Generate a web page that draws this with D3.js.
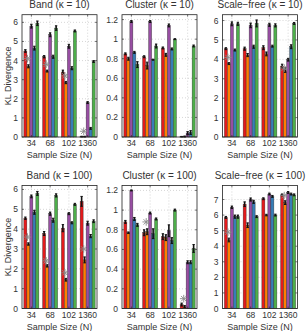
<!DOCTYPE html>
<html><head><meta charset="utf-8">
<script src="https://cdn.jsdelivr.net/npm/d3@7"></script>
<style>body{margin:0;background:#fff}svg{display:block}text{font-family:"Liberation Sans",Arial,sans-serif;fill:#333}</style>
</head><body><svg id="c" width="306" height="331"></svg>
<script>
const sampleSizes = ["34","68","102","1360"];
const methodColors = ["#e41a1c","#ff7f00","#984ea3","#377eb8","#4daf4a"];
const titles = ["Band (κ = 10)","Cluster (κ = 10)","Scale\u2212free (κ = 10)","Band (κ = 100)","Cluster (κ = 100)","Scale\u2212free (κ = 100)"];

const bandK10 = [[4.5,3.7,5.8,4.65,5.95],[4.2,3.45,5.35,4.2,5.7],[3.4,2.85,4.75,3.6,5.55],[0.02,0.02,1.8,0.45,3.95]];
const bandK10Err = [[0.07,0.08,0.1,0.1,0.12],[0.06,0.05,0.1,0.08,0.12],[0.1,0.06,0.1,0.08,0.05],[0.02,0.02,0.05,0.05,0.05]];
const bandK10Star = [4.1,3.8,3.2,0.3];

const clusterK10 = [[0.85,0.8,1.18,0.865,0.74],[0.82,0.73,1.18,0.79,0.93],[0.91,0.84,1.14,0.9,1.0],[0.003,0.005,0.04,0.045,0.93]];
const clusterK10Err = [[0.01,0.015,0.01,0.01,0.03],[0.01,0.035,0.01,0.005,0.02],[0.01,0.015,0.015,0.01,0.005],[0.003,0.005,0.015,0.02,0.01]];
const clusterK10Star = [null,null,null,null];

const scaleK10 = [[4.55,3.78,5.83,4.48,5.83],[4.55,4.22,5.75,4.65,5.85],[4.6,4.28,5.78,4.68,5.75],[3.65,3.45,3.98,4.65,5.85]];
const scaleK10Err = [[0.05,0.05,0.1,0.05,0.08],[0.08,0.08,0.12,0.08,0.18],[0.1,0.1,0.08,0.05,0.08],[0.1,0.12,0.07,0.1,0.05]];
const scaleK10Star = [4.1,null,null,3.55];

const bandK100 = [[4.55,3.25,5.65,4.85,5.8],[3.78,2.15,4.78,4.45,5.7],[4.05,1.45,4.78,4.32,5.25],[5.4,2.45,4.3,3.65,4.4]];
const bandK100Err = [[0.06,0.06,0.07,0.1,0.1],[0.1,0.06,0.08,0.1,0.08],[0.18,0.07,0.05,0.05,0.05],[0.25,0.15,0.1,0.08,0.07]];
const bandK100Star = [3.6,2.4,1.8,3.0];

const clusterK100 = [[0.88,0.77,1.2,0.91,0.85],[0.77,0.78,0.97,0.76,0.91],[0.73,0.72,0.79,0.69,1.0],[0.04,0.02,0.47,0.47,0.61]];
const clusterK100Err = [[0.015,0.008,0.005,0.015,0.015],[0.03,0.03,0.01,0.05,0.01],[0.03,0.03,0.06,0.03,0.01],[0.015,0.01,0.015,0.015,0.04]];
const clusterK100Star = [null,0.88,null,0.1];

const scaleK100 = [[5.85,4.4,6.5,5.9,5.9],[6.7,5.35,7.0,6.85,5.9],[7.05,6.0,7.35,7.2,6.0],[7.3,6.8,7.45,7.35,7.3]];
const scaleK100Err = [[0.06,0.12,0.08,0.1,0.1],[0.15,0.15,0.1,0.1,0.06],[0.06,0.05,0.06,0.06,0.06],[0.06,0.12,0.06,0.06,0.06]];
const scaleK100Star = [4.9,null,null,7.25];

const yMax = [6.4,1.25,6.3,6.2,1.25,7.9];
const yTicks = [[0,1,2,3,4,5,6],[0,0.2,0.4,0.6,0.8,1,1.2],[0,1,2,3,4,5,6],[0,1,2,3,4,5,6],[0,0.2,0.4,0.6,0.8,1,1.2],[0,1,2,3,4,5,6,7]];

const panels = [
  [bandK10,bandK10Err,bandK10Star],[clusterK10,clusterK10Err,clusterK10Star],[scaleK10,scaleK10Err,scaleK10Star],
  [bandK100,bandK100Err,bandK100Star],[clusterK100,clusterK100Err,clusterK100Star],[scaleK100,scaleK100Err,scaleK100Star]
];

const svg = d3.select("#c");
const colX = [22,122,222.5], W = 75;
const rowY = [[14.7,137],[185.5,308.5]];

panels.forEach((p,i)=>{
  const [vals,errs,stars] = p;
  const col = i%3, row = Math.floor(i/3);
  const x0 = colX[col], x1 = x0+W, yt = rowY[row][0], yb = rowY[row][1];
  const x = d3.scaleLinear().domain([0.5,4.5]).range([x0,x1]);
  const y = d3.scaleLinear().domain([0,yMax[i]]).range([yb,yt]);
  const g = svg.append("g");
  const gGrid = g.append("g"), gBars = g.append("g"), gErr = g.append("g"), gStar = g.append("g"), gAx = g.append("g");
  gGrid.selectAll(".gx").data(sampleSizes).join("line")
    .attr("x1",(d,j)=>x(j+1)).attr("x2",(d,j)=>x(j+1)).attr("y1",yt).attr("y2",yb)
    .attr("stroke","#bbb").attr("stroke-width",0.6).attr("stroke-dasharray","1,2");
  gGrid.selectAll(".gy").data(yTicks[i]).join("line")
    .attr("x1",x0).attr("x2",x1).attr("y1",d=>y(d)).attr("y2",d=>y(d))
    .attr("stroke","#bbb").attr("stroke-width",0.6).attr("stroke-dasharray","1,2");
  const pitch = x(2)-x(1);
  const gw = 0.8*pitch, bw = gw/5;
  vals.forEach((grp,j)=>{
    grp.forEach((v,k)=>{
      const bx = x(j+1)-gw/2+k*bw;
      gBars.append("rect").attr("x",bx).attr("y",y(v)).attr("width",bw).attr("height",Math.max(0,y(0)-y(v)))
        .attr("fill",methodColors[k]).attr("stroke","#333").attr("stroke-width",0.4);
      const e = errs[j][k], cx = bx+bw/2;
      gErr.append("line").attr("x1",cx).attr("x2",cx).attr("y1",y(Math.min(v+e,yMax[i]))).attr("y2",y(Math.max(0,v-e)))
        .attr("stroke","#111").attr("stroke-width",1.6);
      [v+e,v-e].forEach(c=>{ if(c>=0 && c<=yMax[i]) gErr.append("line").attr("x1",cx-1.2).attr("x2",cx+1.2).attr("y1",y(c)).attr("y2",y(c)).attr("stroke","#111").attr("stroke-width",1); });
    });
    const s = stars[j];
    if(s!=null){
      const sx = x(j+1)-gw/2+1.2*bw, sy = y(s), r=3.8;
      const star = gStar.append("g").attr("transform",`translate(${sx},${sy})`);
      [0,45,90,135].forEach(a=>{
        const rad=a*Math.PI/180;
        star.append("line").attr("x1",-r*Math.cos(rad)).attr("y1",-r*Math.sin(rad)).attr("x2",r*Math.cos(rad)).attr("y2",r*Math.sin(rad))
          .attr("stroke","#8a8a8a").attr("stroke-width",0.9);
      });
    }
  });
  gAx.append("rect").attr("x",x0).attr("y",yt).attr("width",W).attr("height",yb-yt).attr("fill","none").attr("stroke","#222").attr("stroke-width",0.8);
  sampleSizes.forEach((s,j)=>{
    gAx.append("line").attr("x1",x(j+1)).attr("x2",x(j+1)).attr("y1",yb).attr("y2",yb-2).attr("stroke","#222").attr("stroke-width",0.6);
    gAx.append("line").attr("x1",x(j+1)).attr("x2",x(j+1)).attr("y1",yt).attr("y2",yt+2).attr("stroke","#222").attr("stroke-width",0.6);
    gAx.append("text").attr("x",x(j+1)).attr("y",yb+9).attr("text-anchor","middle").attr("font-size",8.5).text(s);
  });
  yTicks[i].forEach(t=>{
    gAx.append("line").attr("x1",x0).attr("x2",x0+2).attr("y1",y(t)).attr("y2",y(t)).attr("stroke","#222").attr("stroke-width",0.6);
    gAx.append("line").attr("x1",x1).attr("x2",x1-2).attr("y1",y(t)).attr("y2",y(t)).attr("stroke","#222").attr("stroke-width",0.6);
    gAx.append("text").attr("x",x0-4).attr("y",y(t)+3).attr("text-anchor","end").attr("font-size",8.5).text(String(t));
  });
  gAx.append("text").attr("x",(x0+x1)/2).attr("y",yt-6.5).attr("text-anchor","middle").attr("font-size",10).text(titles[i]);
  gAx.append("text").attr("x",(x0+x1)/2).attr("y",yb+21).attr("text-anchor","middle").attr("font-size",9).text("Sample Size (N)");
  if(col===0){
    gAx.append("text").attr("transform",`translate(11,${(yt+yb)/2}) rotate(-90)`).attr("text-anchor","middle").attr("font-size",9).text("KL Divergence");
  }
});
</script></body></html>
